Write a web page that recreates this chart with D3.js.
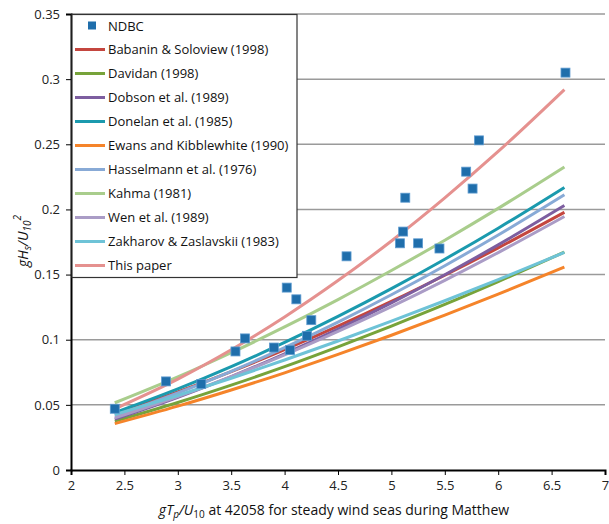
<!DOCTYPE html>
<html>
<head>
<meta charset="utf-8">
<title>Hs vs Tp steady wind seas</title>
<script src="https://cdn.jsdelivr.net/npm/d3@7"></script>
<style>
  body { margin: 0; background: #fff; }
  svg { display: block; font-family: "Open Sans", "Noto Sans", sans-serif; }
  .tick text { font-size: 13px; fill: #222; }
  .legend text { font-size: 13px; fill: #111; }
</style>
</head>
<body>
<div id="chart"></div>
<script>
// NDBC observations (gTp/U10, gHs/U10^2)
var ndbcX = [2.41, 2.89, 3.22, 3.54, 3.63, 3.90, 4.02, 4.05, 4.11, 4.21, 4.25, 4.58, 5.08, 5.11, 5.13, 5.25, 5.45, 5.70, 5.76, 5.82, 6.63];
var ndbcY = [0.047, 0.068, 0.066, 0.091, 0.101, 0.094, 0.140, 0.092, 0.131, 0.103, 0.115, 0.164, 0.174, 0.183, 0.209, 0.174, 0.170, 0.229, 0.216, 0.253, 0.305];

var curveX = [2.41, 3.0, 3.5, 4.0, 4.5, 5.0, 5.5, 6.0, 6.62];

var babanin    = [0.0430, 0.0599, 0.0755, 0.0924, 0.1104, 0.1294, 0.1495, 0.1705, 0.1978];
var davidan    = [0.0375, 0.0518, 0.0651, 0.0793, 0.0945, 0.1105, 0.1271, 0.1446, 0.1673];
var dobson     = [0.0390, 0.0558, 0.0717, 0.0892, 0.1081, 0.1283, 0.1499, 0.1728, 0.2030];
var donelan    = [0.0440, 0.0622, 0.0793, 0.0979, 0.1179, 0.1392, 0.1618, 0.1856, 0.2169];
var ewans      = [0.0356, 0.0490, 0.0614, 0.0746, 0.0887, 0.1034, 0.1189, 0.1350, 0.1558];
var hasselmann = [0.0415, 0.0591, 0.0757, 0.0939, 0.1135, 0.1345, 0.1568, 0.1804, 0.2113];
var kahma      = [0.0516, 0.0715, 0.0900, 0.1098, 0.1308, 0.1531, 0.1764, 0.2008, 0.2326];
var wen        = [0.0400, 0.0564, 0.0717, 0.0884, 0.1064, 0.1254, 0.1456, 0.1669, 0.1946];
var zakharov   = [0.0425, 0.0572, 0.0704, 0.0844, 0.0990, 0.1142, 0.1299, 0.1461, 0.1670];
var thisPaper  = [0.0470, 0.0698, 0.0923, 0.1175, 0.1454, 0.1758, 0.2089, 0.2445, 0.2920];

var seriesNames = ["Babanin & Soloview (1998)", "Davidan (1998)", "Dobson et al. (1989)",
  "Donelan et al. (1985)", "Ewans and Kibblewhite (1990)", "Hasselmann et al. (1976)",
  "Kahma (1981)", "Wen et al. (1989)", "Zakharov & Zaslavskii (1983)", "This paper"];
var seriesValues = [babanin, davidan, dobson, donelan, ewans, hasselmann, kahma, wen, zakharov, thisPaper];
var seriesColors = ["#C4463F", "#77A33A", "#7D5EA0", "#1B9AAE", "#F5842A",
  "#88AAD6", "#A9CD8C", "#AA9CC6", "#6EC3D7", "#E5918F"];

var xTicks = [2, 2.5, 3, 3.5, 4, 4.5, 5, 5.5, 6, 6.5, 7];
var yTicks = [0, 0.05, 0.1, 0.15, 0.2, 0.25, 0.3, 0.35];

var W = 609, H = 524;
var margin = {top: 14, right: 4, bottom: 54, left: 71};

var svg = d3.select("#chart").append("svg")
  .attr("width", W).attr("height", H);

var x = d3.scaleLinear().domain([2, 7]).range([margin.left, W - margin.right]);
var y = d3.scaleLinear().domain([0, 0.35]).range([H - margin.bottom, margin.top]);

// grid
svg.append("g").selectAll("line")
  .data(yTicks.filter(function(d){ return d > 0; }))
  .enter().append("line")
  .attr("x1", x(2)).attr("x2", x(7))
  .attr("y1", function(d){ return y(d); }).attr("y2", function(d){ return y(d); })
  .attr("stroke", "#9a9a9a").attr("stroke-width", 1.5);

// axes
var yAxis = svg.append("g")
  .attr("transform", "translate(" + x(2) + ",0)")
  .call(d3.axisLeft(y).tickValues(yTicks).tickSize(5).tickPadding(6)
    .tickFormat(function(d){ return d3.format("~g")(d); }));
var xAxis = svg.append("g")
  .attr("transform", "translate(0," + y(0) + ")")
  .call(d3.axisBottom(x).tickValues(xTicks).tickSize(5).tickPadding(6)
    .tickFormat(function(d){ return d3.format("~g")(d); }));
[xAxis, yAxis].forEach(function(a){
  a.select(".domain").attr("stroke", "#000").attr("stroke-width", 2);
  a.selectAll(".tick line").attr("stroke", "#000");
  a.selectAll(".tick text").style("font-family", "'Open Sans', sans-serif");
});

// curves
var line = d3.line()
  .x(function(d){ return x(d[0]); })
  .y(function(d){ return y(d[1]); })
  .curve(d3.curveMonotoneX);

svg.append("g").selectAll("path")
  .data(seriesValues)
  .enter().append("path")
  .attr("d", function(vals){ return line(curveX.map(function(cx, i){ return [cx, vals[i]]; })); })
  .attr("fill", "none")
  .attr("stroke", function(d, i){ return seriesColors[i]; })
  .attr("stroke-width", 3);

// NDBC markers
var ms = 9;
svg.append("g").selectAll("rect")
  .data(ndbcX)
  .enter().append("rect")
  .attr("x", function(d){ return x(d) - ms / 2; })
  .attr("y", function(d, i){ return y(ndbcY[i]) - ms / 2; })
  .attr("width", ms).attr("height", ms)
  .attr("fill", "#1F6EAB")
  .attr("stroke", "#5E9BD0").attr("stroke-width", 0.8);

// legend
var legend = svg.append("g").attr("class", "legend")
  .attr("transform", "translate(" + (x(2) + 1) + "," + (y(0.35) + 0.5) + ")");
legend.append("rect")
  .attr("width", 225).attr("height", 263)
  .attr("fill", "#fff").attr("stroke", "#333").attr("stroke-width", 1.2);
legend.append("rect")
  .attr("x", 16).attr("y", 7).attr("width", 8).attr("height", 8)
  .attr("fill", "#1F6EAB");
legend.append("text").attr("x", 36).attr("y", 16).text("NDBC");

var rowH = 24;
var rows = legend.selectAll(".row")
  .data(seriesNames)
  .enter().append("g").attr("class", "row")
  .attr("transform", function(d, i){ return "translate(0," + (35 + i * rowH) + ")"; });
rows.append("line")
  .attr("x1", 3).attr("x2", 33).attr("y1", 0).attr("y2", 0)
  .attr("stroke", function(d, i){ return seriesColors[i]; })
  .attr("stroke-width", 3);
rows.append("text")
  .attr("x", 36).attr("y", 4.5)
  .text(function(d){ return d; });

// axis titles
var xt = svg.append("text")
  .attr("x", (x(2) + x(7)) / 2 - 4).attr("y", 515)
  .attr("text-anchor", "middle")
  .style("font-size", "14px").attr("fill", "#111");
xt.append("tspan").attr("font-style", "italic").text("gT");
xt.append("tspan").attr("font-style", "italic").attr("font-size", "10px").attr("dy", 3).text("p");
xt.append("tspan").attr("font-style", "italic").attr("dy", -3).text("/U");
xt.append("tspan").attr("font-size", "10px").attr("dy", 3).text("10");
xt.append("tspan").attr("dy", -3).text(" at 42058 for steady wind seas during Matthew");

var yt = svg.append("text")
  .attr("transform", "translate(28," + 241 + ") rotate(-90)")
  .attr("text-anchor", "middle")
  .style("font-size", "14px").attr("fill", "#111");
yt.append("tspan").attr("font-style", "italic").text("gH");
yt.append("tspan").attr("font-style", "italic").attr("font-size", "10px").attr("dy", 3).text("s");
yt.append("tspan").attr("font-style", "italic").attr("dy", -3).text("/U");
yt.append("tspan").attr("font-style", "italic").attr("font-size", "10px").attr("dy", 3).text("10");
yt.append("tspan").attr("font-style", "italic").attr("font-size", "10px").attr("dy", -10).text("2");
</script>
</body>
</html>
